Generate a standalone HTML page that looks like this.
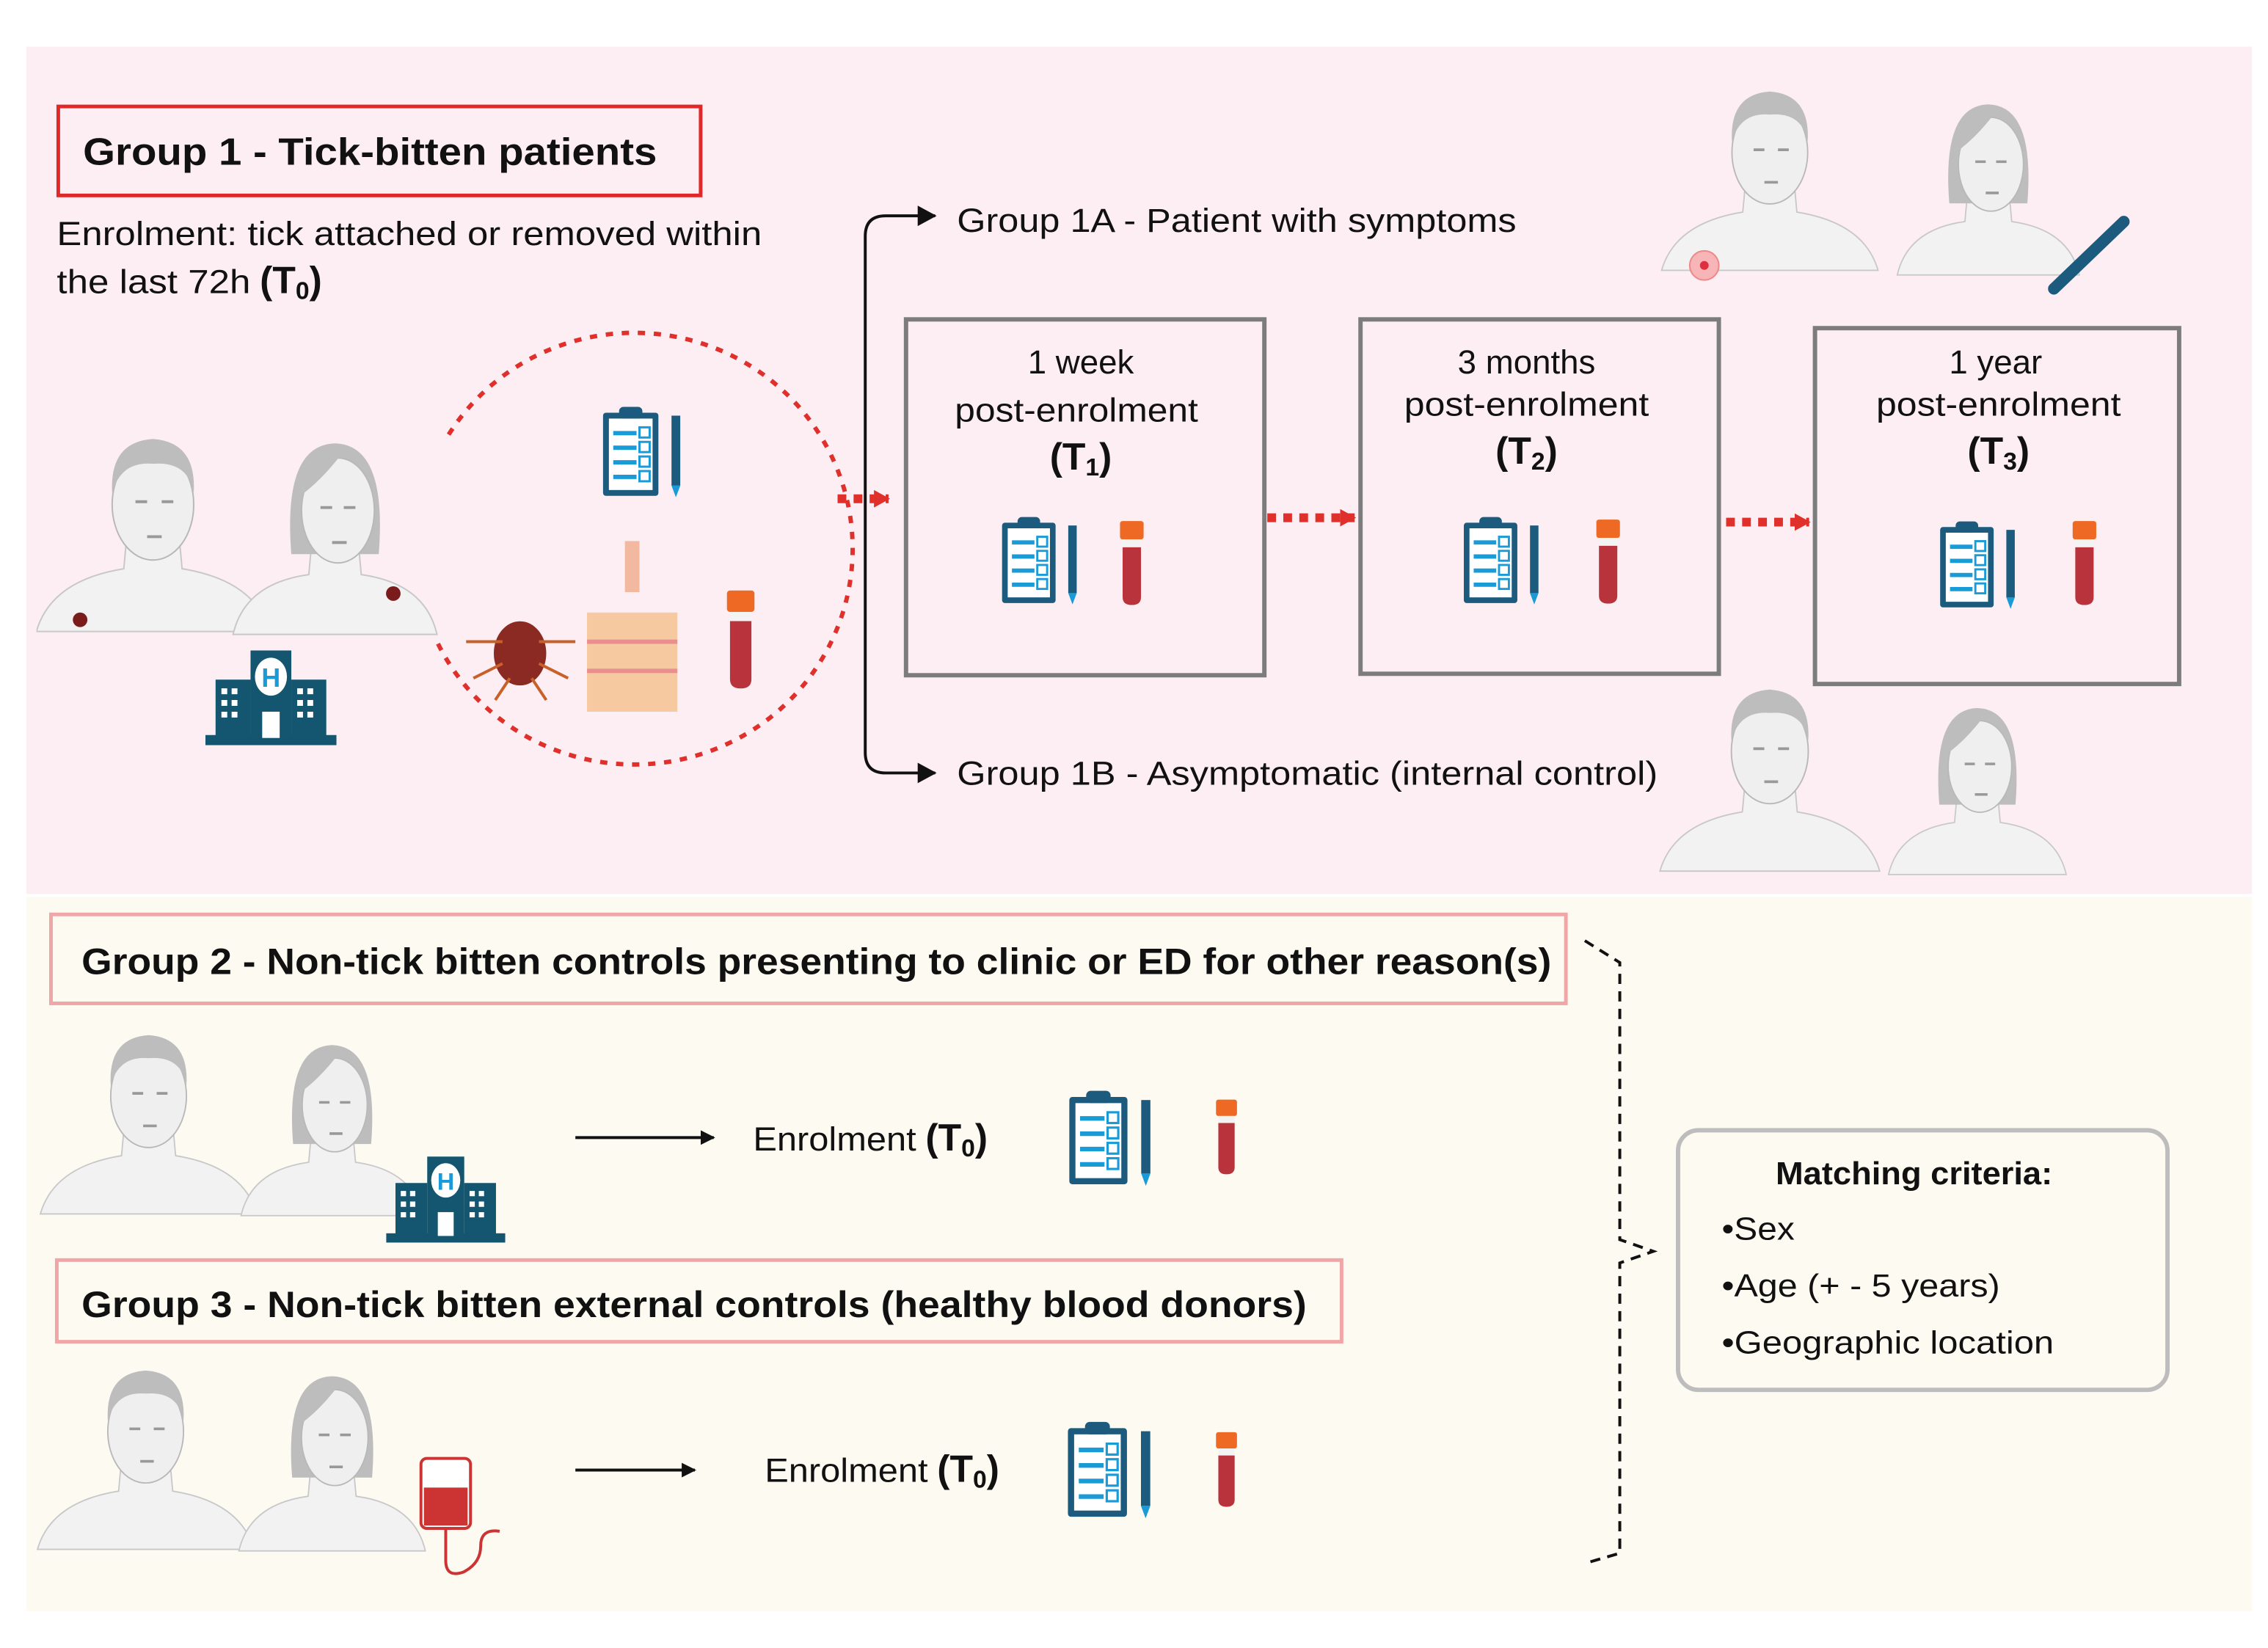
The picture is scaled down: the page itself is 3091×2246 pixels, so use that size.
<!DOCTYPE html>
<html><head><meta charset="utf-8"><style>html,body{margin:0;padding:0;background:#fff}svg{display:block}text{font-family:"Liberation Sans",sans-serif;fill:#111}</style></head><body>
<svg width="3091" height="2246" viewBox="0 0 1557 1130" preserveAspectRatio="none" xmlns="http://www.w3.org/2000/svg">
<defs>
<symbol id="man" viewBox="0 0 160 140">
<path d="M0 135 Q10 100 60 92 L62 70 L98 70 L100 92 Q150 100 160 135 Z" fill="#f2f2f2" stroke="#c8c8c8"/>
<ellipse cx="80" cy="48" rx="28" ry="38" fill="#efefef" stroke="#b8b8b8"/>
<path d="M52 40 Q50 5 80 3 Q110 5 108 40 Q104 18 80 20 Q58 18 52 40Z" fill="#bdbdbd"/>
<path d="M68 46h8M86 46h8M76 70h10" stroke="#999" stroke-width="2"/>
</symbol>
<symbol id="woman" viewBox="0 0 160 140">
<path d="M10 135 Q18 100 62 94 L64 72 L96 72 L98 94 Q142 100 150 135 Z" fill="#f2f2f2" stroke="#c8c8c8"/>
<path d="M50 80 Q44 5 80 4 Q116 5 110 80 Z" fill="#bdbdbd"/>
<ellipse cx="82" cy="50" rx="25" ry="36" fill="#efefef" stroke="#b8b8b8"/>
<path d="M56 40 Q70 30 84 12 Q62 10 56 40Z" fill="#bdbdbd"/>
<path d="M70 48h8M86 48h8M78 72h10" stroke="#999" stroke-width="2"/>
</symbol>
<symbol id="clip" viewBox="0 0 60 65">
<rect x="2" y="6" width="38" height="57" rx="2" fill="#1c5a7e"/>
<rect x="6" y="10" width="30" height="49" fill="#fff"/>
<rect x="13" y="2" width="16" height="8" rx="3" fill="#1c5a7e"/>
<path d="M9 20h16M9 30h16M9 40h16M9 50h16" stroke="#1a9ad6" stroke-width="3"/>
<rect x="27" y="16" width="7" height="7" fill="none" stroke="#1a9ad6" stroke-width="1.5"/>
<rect x="27" y="26" width="7" height="7" fill="none" stroke="#1a9ad6" stroke-width="1.5"/>
<rect x="27" y="36" width="7" height="7" fill="none" stroke="#1a9ad6" stroke-width="1.5"/>
<rect x="27" y="46" width="7" height="7" fill="none" stroke="#1a9ad6" stroke-width="1.5"/>
<rect x="49" y="8" width="6" height="48" fill="#1c5a7e"/>
<path d="M49 56 L52 64 L55 56Z" fill="#1a9ad6"/>
</symbol>
<symbol id="tube" viewBox="0 0 20 65">
<rect x="1" y="0" width="18" height="14" rx="2" fill="#ee6a24"/>
<rect x="3" y="14" width="14" height="6" fill="#f3f3f3"/>
<path d="M3 20 H17 V58 Q17 64 10 64 Q3 64 3 58Z" fill="#b8333b"/>
</symbol>
<symbol id="hosp" viewBox="0 0 90 65">
<rect x="0" y="58" width="90" height="7" fill="#14556f"/>
<rect x="7" y="20" width="24" height="40" fill="#14556f"/>
<rect x="59" y="20" width="24" height="40" fill="#14556f"/>
<rect x="31" y="0" width="28" height="60" fill="#14556f"/>
<ellipse cx="45" cy="18" rx="11" ry="13" fill="#fff"/>
<text x="45" y="25" text-anchor="middle" font-size="18" font-weight="bold" style="fill:#1a9ad6">H</text>
<rect x="39" y="42" width="12" height="18" fill="#fff"/>
<path d="M11 28h4M18 28h4M11 36h4M18 36h4M11 44h4M18 44h4M63 28h4M70 28h4M63 36h4M70 36h4M63 44h4M70 44h4" stroke="#fff" stroke-width="4"/>
</symbol>
<marker id="ab" markerWidth="10" markerHeight="10" refX="9" refY="5" orient="auto" markerUnits="userSpaceOnUse"><path d="M0 0 L10 5 L0 10Z" fill="#111"/></marker>
<marker id="ar" markerWidth="12" markerHeight="12" refX="10" refY="6" orient="auto" markerUnits="userSpaceOnUse"><path d="M0 0 L11 6 L0 12Z" fill="#e0302c"/></marker>
</defs>
<rect x="18" y="32" width="1528" height="581" fill="#fdeef4"/>
<rect x="18" y="615" width="1528" height="490" fill="#fdfaf1"/>

<rect x="40" y="73" width="441" height="61" fill="none" stroke="#e02828" stroke-width="2.5"/>
<text x="57" y="113" font-size="26" font-weight="bold" textLength="394" lengthAdjust="spacingAndGlyphs">Group 1 - Tick-bitten patients</text>
<text x="39" y="168" font-size="23" textLength="484" lengthAdjust="spacingAndGlyphs">Enrolment: tick attached or removed within</text>
<text x="39" y="201" font-size="23"><tspan textLength="133" lengthAdjust="spacingAndGlyphs">the last 72h</tspan>  <tspan font-weight="bold" font-size="26">(T<tspan font-size="17" dy="4">0</tspan><tspan dy="-4">)</tspan></tspan></text>

<use href="#man" x="25" y="298" width="160" height="140"/>
<use href="#woman" x="150" y="300" width="160" height="140"/>
<circle cx="55" cy="425" r="5" fill="#7a1c1c"/><circle cx="270" cy="407" r="5" fill="#7a1c1c"/>
<use href="#hosp" x="141" y="446" width="90" height="65"/>

<path d="M308 298 A150 148 0 1 1 300 440" fill="none" stroke="#e0302c" stroke-width="3" stroke-dasharray="5 6"/>
<use href="#clip" x="412" y="276" width="60" height="67"/>
<ellipse cx="357" cy="448" rx="18" ry="22" fill="#8a2a22"/>
<path d="M320 440 L345 440 M325 465 L345 455 M395 440 L370 440 M390 465 L370 455 M340 480 L350 465 M375 480 L365 465" stroke="#c8602a" stroke-width="2"/>
<rect x="429" y="371" width="10" height="35" fill="#f2b8a0"/>
<rect x="403" y="420" width="62" height="68" fill="#f6c9a0"/>
<path d="M403 440 H465 M403 460 H465" stroke="#e89090" stroke-width="3"/>
<use href="#tube" x="498" y="398" width="21" height="82"/>

<path d="M575 342 H610" stroke="#e0302c" stroke-width="6" stroke-dasharray="6 5" marker-end="url(#ar)"/>
<path d="M870 355 H930" stroke="#e0302c" stroke-width="6" stroke-dasharray="6 5" marker-end="url(#ar)"/>
<path d="M1185 358 H1242" stroke="#e0302c" stroke-width="6" stroke-dasharray="6 5" marker-end="url(#ar)"/>

<path d="M642 148 H608 Q594 148 594 162 V516 Q594 530 608 530 H642" fill="none" stroke="#111" stroke-width="2"/>
<path d="M630 141 L643 148 L630 155Z M630 523 L643 530 L630 537Z" fill="#111"/>
<text x="657" y="159" font-size="23" textLength="384" lengthAdjust="spacingAndGlyphs">Group 1A -  Patient with symptoms</text>
<text x="657" y="538" font-size="23" textLength="481" lengthAdjust="spacingAndGlyphs">Group 1B -  Asymptomatic (internal control)</text>

<rect x="622" y="219" width="246" height="244" fill="none" stroke="#7c7c7c" stroke-width="3"/>
<rect x="934" y="219" width="246" height="243" fill="none" stroke="#7c7c7c" stroke-width="3"/>
<rect x="1246" y="225" width="250" height="244" fill="none" stroke="#7c7c7c" stroke-width="3"/>
<g font-size="23" text-anchor="middle">
<text x="742" y="256">1 week</text><text x="739" y="289" textLength="167" lengthAdjust="spacingAndGlyphs">post-enrolment</text>
<text x="742" y="322" font-weight="bold" font-size="26">(T<tspan font-size="17" dy="4">1</tspan><tspan dy="-4">)</tspan></text>
<text x="1048" y="256">3 months</text><text x="1048" y="285" textLength="168" lengthAdjust="spacingAndGlyphs">post-enrolment</text>
<text x="1048" y="318" font-weight="bold" font-size="26">(T<tspan font-size="17" dy="4">2</tspan><tspan dy="-4">)</tspan></text>
<text x="1370" y="256">1 year</text><text x="1372" y="285" textLength="168" lengthAdjust="spacingAndGlyphs">post-enrolment</text>
<text x="1372" y="318" font-weight="bold" font-size="26">(T<tspan font-size="17" dy="4">3</tspan><tspan dy="-4">)</tspan></text>
</g>
<use href="#clip" x="686" y="352" width="58" height="64"/><use href="#tube" x="768" y="355" width="18" height="63"/>
<use href="#clip" x="1003" y="352" width="58" height="64"/><use href="#tube" x="1095" y="354" width="18" height="63"/>
<use href="#clip" x="1330" y="355" width="58" height="64"/><use href="#tube" x="1422" y="355" width="18" height="63"/>

<use href="#man" x="1135" y="60" width="160" height="130"/>
<use href="#woman" x="1290" y="68" width="150" height="125"/>
<circle cx="1170" cy="182" r="10" fill="#f7b5b8" stroke="#e88" /><circle cx="1170" cy="182" r="3" fill="#e03040"/>
<path d="M1410 198 L1458 152" stroke="#1c5a7e" stroke-width="8" stroke-linecap="round"/>
<use href="#man" x="1135" y="470" width="160" height="132"/>
<use href="#woman" x="1280" y="482" width="155" height="122"/>

<rect x="35" y="627" width="1040" height="61" fill="none" stroke="#f0a6a6" stroke-width="2.5"/>
<text x="56" y="668" font-size="25" font-weight="bold" textLength="1009" lengthAdjust="spacingAndGlyphs">Group 2 - Non-tick bitten controls presenting to clinic or ED for other reason(s)</text>
<use href="#man" x="22" y="707" width="160" height="130"/>
<use href="#woman" x="148" y="713" width="160" height="125"/>
<use href="#hosp" x="265" y="793" width="82" height="59"/>
<path d="M395 780 H490" stroke="#111" stroke-width="2" marker-end="url(#ab)"/>
<text x="517" y="789" font-size="23"><tspan textLength="112" lengthAdjust="spacingAndGlyphs">Enrolment</tspan> <tspan font-weight="bold" font-size="26">(T<tspan font-size="17" dy="4">0</tspan><tspan dy="-4">)</tspan></tspan></text>
<use href="#clip" x="732" y="745" width="63" height="70"/><use href="#tube" x="834" y="748" width="16" height="64"/>

<rect x="39" y="864" width="882" height="56" fill="none" stroke="#f0a6a6" stroke-width="2.5"/>
<text x="56" y="903" font-size="25" font-weight="bold" textLength="841" lengthAdjust="spacingAndGlyphs">Group 3 - Non-tick bitten external controls (healthy blood donors)</text>
<use href="#man" x="20" y="937" width="160" height="130"/>
<use href="#woman" x="148" y="940" width="160" height="128"/>
<rect x="289" y="1000" width="34" height="48" rx="4" fill="#fff" stroke="#c33" stroke-width="2"/>
<rect x="291" y="1020" width="30" height="26" fill="#c33"/>
<path d="M306 1048 V1070 Q306 1082 318 1078 Q330 1072 330 1060 Q330 1048 343 1050" fill="none" stroke="#c33" stroke-width="2"/>
<path d="M395 1008 H477" stroke="#111" stroke-width="2" marker-end="url(#ab)"/>
<text x="525" y="1016" font-size="23"><tspan textLength="112" lengthAdjust="spacingAndGlyphs">Enrolment</tspan> <tspan font-weight="bold" font-size="26">(T<tspan font-size="17" dy="4">0</tspan><tspan dy="-4">)</tspan></tspan></text>
<use href="#clip" x="731" y="972" width="64" height="71"/><use href="#tube" x="834" y="976" width="16" height="64"/>

<path d="M1088 645 L1112 660 V850 L1135 858 L1112 866 V1065 L1088 1072" fill="none" stroke="#111" stroke-width="2" stroke-dasharray="7 5"/>
<rect x="1152" y="775" width="336" height="178" rx="14" fill="none" stroke="#bdbdbd" stroke-width="3"/>
<text x="1219" y="812" font-size="22" font-weight="bold" textLength="190" lengthAdjust="spacingAndGlyphs">Matching criteria:</text>
<text x="1182" y="850" font-size="22" textLength="50" lengthAdjust="spacingAndGlyphs">•Sex</text>
<text x="1182" y="889" font-size="22" textLength="191" lengthAdjust="spacingAndGlyphs">•Age (+ -  5 years)</text>
<text x="1182" y="928" font-size="22" textLength="228" lengthAdjust="spacingAndGlyphs">•Geographic location</text>
</svg>
</body></html>
